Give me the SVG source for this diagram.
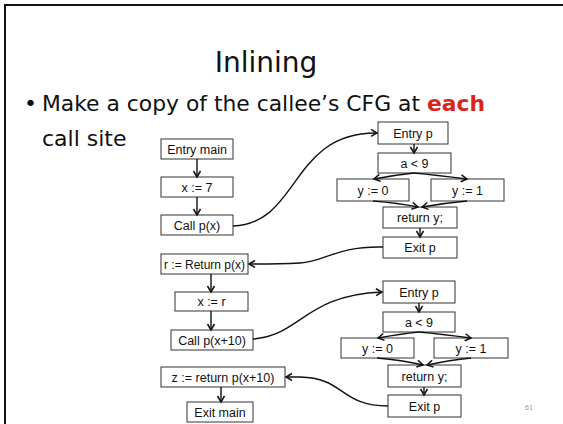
<svg xmlns="http://www.w3.org/2000/svg" width="563" height="424" viewBox="0 0 563 424">
<style>
.box rect{fill:#fff;stroke:#333;stroke-width:1}
.box text{font-family:"Liberation Sans",Arial,sans-serif;font-size:12.5px;fill:#111;text-anchor:middle}
.title{font-family:"Comic Sans MS","DejaVu Sans",sans-serif;font-size:28px;fill:#111;text-anchor:middle}
.body{font-family:"Comic Sans MS","DejaVu Sans",sans-serif;font-size:22px;fill:#111}
.conn path{fill:none;stroke:#111;stroke-width:1.4;marker-end:url(#arr)}
</style>
<defs>
<marker id="arr" markerUnits="userSpaceOnUse" markerWidth="10" markerHeight="10" refX="7" refY="4" orient="auto">
<path d="M1,0.5 L7,4 L1,7.5" fill="none" stroke="#111" stroke-width="1.5"/>
</marker>
</defs>
<rect x="5" y="5" width="620" height="500" fill="none" stroke="#111" stroke-width="2"/>
<text class="title" x="266" y="72">Inlining</text>
<text class="body" x="24" y="111">•</text>
<text class="body" x="42" y="111" textLength="443" lengthAdjust="spacingAndGlyphs">Make a copy of the callee’s CFG at <tspan fill="#d8261c" font-weight="bold">each</tspan></text>
<text class="body" x="42" y="146">call site</text>

<g id="entry_main" class="box"><rect x="161" y="139" width="72" height="20"/><text x="197" y="153.5">Entry main</text></g>
<g id="x_7" class="box"><rect x="161" y="177" width="72" height="20"/><text x="197" y="191.5">x := 7</text></g>
<g id="call_px" class="box"><rect x="161" y="215" width="72" height="20"/><text x="197" y="229.5">Call p(x)</text></g>
<g id="r_return" class="box"><rect x="161" y="254" width="87" height="20"/><text x="204.5" y="268.5" style="font-size:12px">r := Return p(x)</text></g>
<g id="x_r" class="box"><rect x="175" y="292" width="73" height="19"/><text x="211.5" y="306">x := r</text></g>
<g id="call_px10" class="box"><rect x="171" y="330" width="82" height="20"/><text x="212" y="344.5">Call p(x+10)</text></g>
<g id="z_return" class="box"><rect x="161" y="367" width="124" height="20"/><text x="223" y="381.5">z := return p(x+10)</text></g>
<g id="exit_main" class="box"><rect x="187" y="402" width="66" height="20"/><text x="220" y="416.5">Exit main</text></g>

<g id="entry_p1" class="box"><rect x="378" y="122" width="70" height="22"/><text x="413" y="137.5">Entry p</text></g>
<g id="cond1" class="box"><rect x="378" y="153" width="73" height="20"/><text x="414.5" y="167.5">a &lt; 9</text></g>
<g id="y0_1" class="box"><rect x="337" y="179" width="72" height="22"/><text x="373" y="194.5">y := 0</text></g>
<g id="y1_1" class="box"><rect x="431" y="179" width="73" height="22"/><text x="467.5" y="194.5">y := 1</text></g>
<g id="ret1" class="box"><rect x="383" y="207" width="74" height="21"/><text x="420" y="222">return y;</text></g>
<g id="exit_p1" class="box"><rect x="383" y="237" width="74" height="21"/><text x="420" y="252">Exit p</text></g>

<g id="entry_p2" class="box"><rect x="383" y="281" width="72" height="22"/><text x="419" y="296.5">Entry p</text></g>
<g id="cond2" class="box"><rect x="383" y="312" width="72" height="20"/><text x="419" y="326.5">a &lt; 9</text></g>
<g id="y0_2" class="box"><rect x="341" y="338" width="73" height="20"/><text x="377.5" y="352.5">y := 0</text></g>
<g id="y1_2" class="box"><rect x="434" y="338" width="74" height="20"/><text x="471" y="352.5">y := 1</text></g>
<g id="ret2" class="box"><rect x="388" y="365" width="73" height="22"/><text x="424.5" y="380.5">return y;</text></g>
<g id="exit_p2" class="box"><rect x="388" y="395" width="73" height="22"/><text x="424.5" y="410.5">Exit p</text></g>

<text x="529" y="410" font-family="'Liberation Sans',Arial,sans-serif" font-size="7px" fill="#999" text-anchor="middle">61</text>

<g id="connectors" class="conn">
<path d="M197,159 V177"/>
<path d="M197,197 V215"/>
<path d="M211,274 V292"/>
<path d="M211,311 V330"/>
<path d="M221,387 V402"/>
<path d="M233,226 C300,224 290,132 377,133"/>
<path d="M383,247 C335,246 325,262 300,263 C280,264 265,264 249,264"/>
<path d="M253,339 C300,336 305,295 382,292"/>
<path d="M388,406 C340,406 345,378 300,377 L286,377"/>
<path d="M414,144 V153"/>
<path d="M414,173 Q395,175 374,179"/>
<path d="M414,173 Q435,175 467,179"/>
<path d="M373,201 Q398,203 418,207"/>
<path d="M467,201 Q445,203 422,207"/>
<path d="M420,228 V237"/>
<path d="M419,303 V312"/>
<path d="M419,332 Q400,334 378,338"/>
<path d="M419,332 Q440,334 471,338"/>
<path d="M377,358 Q402,360 423,365"/>
<path d="M471,358 Q450,360 427,365"/>
<path d="M424,387 V395"/>
</g>
</svg>
